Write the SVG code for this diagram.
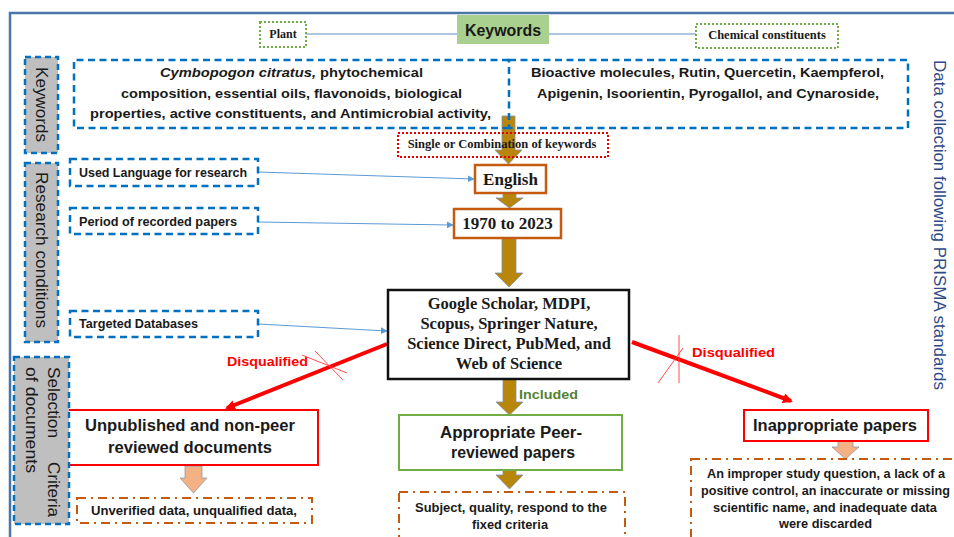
<svg xmlns="http://www.w3.org/2000/svg" width="954" height="537" viewBox="0 0 954 537">
<defs>
<style>
.bd{fill:none;stroke:#0070c0;stroke-width:2.5;stroke-dasharray:7 4.5}
.side{fill:#bfbfbf;stroke:#0070c0;stroke-width:2.5;stroke-dasharray:6 4}
.gd{fill:#fff;stroke:#70ad47;stroke-width:2;stroke-dasharray:2 2}
.rd{fill:none;stroke:#e00000;stroke-width:2;stroke-dasharray:2 2}
.od{fill:#fff;stroke:#c55a11;stroke-width:2;stroke-dasharray:9 5 2 5}
.ob{fill:#fff;stroke:#c55a11;stroke-width:2.5}
.sans{font-family:"Liberation Sans",Arial,sans-serif;font-weight:bold;fill:#1a1a1a}
.ser{font-family:"Liberation Serif","Times New Roman",serif;font-weight:bold;fill:#1a1a1a}
.side-t{font-family:"Liberation Sans",Arial,sans-serif;font-size:16px;fill:#1a1a1a}
.brown{fill:#b8860b;stroke:#7f93ad;stroke-width:0.8}
.peach{fill:#f4b183;stroke:#8c99a8;stroke-width:0.8}
.thin{fill:none;stroke:#5b9bd5;stroke-width:1.2}
.red{fill:none;stroke:#ff0000;stroke-width:4}
.cross{fill:none;stroke:#ff3b3b;stroke-width:0.9}
.lbl-red{font-family:"Liberation Sans",Arial,sans-serif;font-weight:bold;font-size:13px;fill:#ff0000}
</style>
<marker id="ab" viewBox="0 0 10 10" refX="9" refY="5" markerWidth="7" markerHeight="7" markerUnits="userSpaceOnUse" orient="auto"><path d="M0,0 L10,5 L0,10 z" fill="#5b9bd5"/></marker>
<marker id="ar" viewBox="0 0 10 10" refX="8" refY="5" markerWidth="10" markerHeight="10" markerUnits="userSpaceOnUse" orient="auto"><path d="M0,0 L10,5 L0,10 z" fill="#ff0000"/></marker>
</defs>
<rect width="954" height="537" fill="#fff"/>
<!-- frame -->
<path d="M10,537 L10,13 L954,13" fill="none" stroke="#4a76a8" stroke-width="2.5"/>

<g id="connectors">
<line x1="306" y1="34" x2="457" y2="34" stroke="#8fb4d9" stroke-width="1.5"/>
<line x1="549" y1="34" x2="696" y2="34" stroke="#8fb4d9" stroke-width="1.5"/>
<line class="thin" x1="258" y1="172" x2="474" y2="179" marker-end="url(#ab)"/>
<line class="thin" x1="258" y1="222" x2="453" y2="225" marker-end="url(#ab)"/>
<line class="thin" x1="258" y1="324" x2="387" y2="331" marker-end="url(#ab)"/>
<path class="brown" d="M502,116 H515 V150 H522 L508.5,164 L495,150 H502 Z"/>
<path class="brown" d="M503,193 H516 V198 H523 L509.5,208 L496,198 H503 Z"/>
<path class="brown" d="M502,238 H516 V273 H523 L509,287 L495,273 H502 Z"/>
<path class="brown" d="M503,379 H516 V402 H523 L509.5,415 L496,402 H503 Z"/>
<path class="brown" d="M503,470 H516 V475 H523 L509.5,489 L496,475 H503 Z"/>
<path class="peach" d="M185,466 H202 V478 H207 L193.5,493 L180,478 H185 Z"/>
<path class="peach" d="M838,441 H853 V447 H859 L845.5,459 L832,447 H838 Z"/>
<line class="red" x1="387" y1="344" x2="227" y2="408" marker-end="url(#ar)"/>
<line class="red" x1="632" y1="342" x2="791" y2="401" marker-end="url(#ar)"/>
<line class="cross" x1="302" y1="355" x2="347" y2="373"/>
<line class="cross" x1="315" y1="351" x2="343" y2="380"/>
<line class="cross" x1="679" y1="335" x2="679" y2="383"/>
<line class="cross" x1="658" y1="383" x2="683" y2="348"/>
<text class="lbl-red" x="227" y="366" textLength="81" lengthAdjust="spacingAndGlyphs">Disqualified</text>
<text class="lbl-red" x="692" y="357" textLength="83" lengthAdjust="spacingAndGlyphs">Disqualified</text>
<text class="sans" x="519" y="399" font-size="13" style="fill:#548235" textLength="59" lengthAdjust="spacingAndGlyphs">Included</text>
</g>

<g id="keywords-title">
<rect x="457" y="15" width="92" height="29" fill="#a9d08e"/>
<text class="sans" x="503" y="36" font-size="16" text-anchor="middle" textLength="76" lengthAdjust="spacingAndGlyphs">Keywords</text>
</g>
<g id="plant">
<rect class="gd" x="260" y="22" width="46" height="25"/>
<text class="ser" x="283" y="38" font-size="12" text-anchor="middle">Plant</text>
</g>
<g id="chemical">
<rect class="gd" x="696" y="24" width="142" height="24"/>
<text class="ser" x="767" y="39" font-size="12.5" text-anchor="middle">Chemical constituents</text>
</g>

<g id="side-keywords">
<rect class="side" x="25" y="57" width="33" height="96"/>
<text class="side-t" transform="translate(35.5,67) rotate(90)" textLength="75" lengthAdjust="spacingAndGlyphs">Keywords</text>
</g>
<g id="side-research">
<rect class="side" x="25" y="163" width="33" height="179"/>
<text class="side-t" transform="translate(35.5,172) rotate(90)" textLength="156" lengthAdjust="spacingAndGlyphs">Research conditions</text>
</g>

<g id="plant-keywords">
<path class="bd" d="M509,60 H74 V128 H509"/>
<text class="sans" x="291.5" y="77" font-size="13.5" text-anchor="middle" textLength="263" lengthAdjust="spacingAndGlyphs"><tspan font-style="italic">Cymbopogon citratus,</tspan>  phytochemical</text>
<text class="sans" x="291.5" y="98" font-size="13.5" text-anchor="middle" textLength="341" lengthAdjust="spacingAndGlyphs">composition, essential oils, flavonoids, biological</text>
<text class="sans" x="290.5" y="118" font-size="13.5" text-anchor="middle" textLength="401" lengthAdjust="spacingAndGlyphs">properties, active constituents, and Antimicrobial activity,</text>
</g>
<g id="chemical-keywords">
<rect class="bd" x="509" y="60" width="399" height="68"/>
<text class="sans" x="707.5" y="77" font-size="13.5" text-anchor="middle" textLength="353" lengthAdjust="spacingAndGlyphs">Bioactive molecules, Rutin, Quercetin, Kaempferol,</text>
<text class="sans" x="708" y="98" font-size="13.5" text-anchor="middle" textLength="342" lengthAdjust="spacingAndGlyphs">Apigenin, Isoorientin, Pyrogallol, and Cynaroside,</text>
</g>

<g id="single-combination">
<rect class="rd" x="398" y="133" width="210" height="24"/>
<text class="ser" x="502" y="148" font-size="12.5" text-anchor="middle">Single or Combination of keywords</text>
</g>

<g id="used-language">
<rect class="bd" x="70" y="159" width="188" height="27"/>
<text class="sans" x="79" y="177" font-size="12" textLength="168" lengthAdjust="spacingAndGlyphs">Used Language for research</text>
</g>
<g id="period">
<rect class="bd" x="70" y="208" width="188" height="26"/>
<text class="sans" x="79" y="226" font-size="12" textLength="158" lengthAdjust="spacingAndGlyphs">Period of recorded papers</text>
</g>
<g id="targeted-databases">
<rect class="bd" x="70" y="311" width="188" height="26"/>
<text class="sans" x="79" y="328" font-size="12" textLength="119" lengthAdjust="spacingAndGlyphs">Targeted Databases</text>
</g>

<g id="english">
<rect class="ob" x="475" y="165" width="71" height="28"/>
<text class="ser" x="510.5" y="185" font-size="17" text-anchor="middle">English</text>
</g>
<g id="years">
<rect class="ob" x="454" y="209" width="107" height="29"/>
<text class="ser" x="507.5" y="229" font-size="17" text-anchor="middle">1970 to 2023</text>
</g>

<g id="databases">
<rect x="388" y="290" width="241" height="89" fill="#fff" stroke="#111" stroke-width="2.5"/>
<text class="ser" x="509" y="309" font-size="16.5" text-anchor="middle">Google Scholar, MDPI,</text>
<text class="ser" x="509" y="329" font-size="16.5" text-anchor="middle">Scopus, Springer Nature,</text>
<text class="ser" x="509" y="349" font-size="16.5" text-anchor="middle">Science Direct, PubMed, and</text>
<text class="ser" x="509" y="369" font-size="16.5" text-anchor="middle">Web of Science</text>
</g>

<g id="appropriate">
<rect x="399" y="415" width="223" height="55" fill="#fff" stroke="#70ad47" stroke-width="2"/>
<text class="sans" x="511" y="438" font-size="16" text-anchor="middle" textLength="142" lengthAdjust="spacingAndGlyphs">Appropriate Peer-</text>
<text class="sans" x="513" y="458" font-size="16" text-anchor="middle" textLength="124" lengthAdjust="spacingAndGlyphs">reviewed papers</text>
</g>
<g id="subject">
<rect class="od" x="399" y="492" width="226" height="52"/>
<text class="sans" x="511" y="512" font-size="12" text-anchor="middle" textLength="192" lengthAdjust="spacingAndGlyphs">Subject, quality, respond to the</text>
<text class="sans" x="510" y="529" font-size="12" text-anchor="middle" textLength="76" lengthAdjust="spacingAndGlyphs">fixed criteria</text>
</g>

<g id="unpublished">
<rect x="60" y="410" width="258" height="55" fill="#fff" stroke="#ff0000" stroke-width="2"/>
<text class="sans" x="190" y="431" font-size="16" text-anchor="middle" textLength="210" lengthAdjust="spacingAndGlyphs">Unpublished and non-peer</text>
<text class="sans" x="190" y="453" font-size="16" text-anchor="middle" textLength="164" lengthAdjust="spacingAndGlyphs">reviewed documents</text>
</g>
<g id="unverified">
<rect class="od" x="77" y="498" width="235" height="25"/>
<text class="sans" x="194" y="515" font-size="12" text-anchor="middle" textLength="206" lengthAdjust="spacingAndGlyphs">Unverified data, unqualified data,</text>
</g>

<g id="side-selection">
<rect class="side" x="14" y="357" width="55" height="167"/>
<text class="side-t" transform="translate(48,367) rotate(90)" textLength="71" lengthAdjust="spacingAndGlyphs">Selection</text>
<text class="side-t" transform="translate(48,462) rotate(90)" textLength="55" lengthAdjust="spacingAndGlyphs">Criteria</text>
<text class="side-t" transform="translate(26,367) rotate(90)" textLength="106" lengthAdjust="spacingAndGlyphs">of documents</text>
</g>

<g id="inappropriate">
<rect x="744" y="410" width="184" height="31" fill="#fff" stroke="#ff0000" stroke-width="2"/>
<text class="sans" x="835" y="431" font-size="16" text-anchor="middle" textLength="164" lengthAdjust="spacingAndGlyphs">Inappropriate papers</text>
</g>
<g id="discarded">
<rect class="od" x="691" y="459" width="275" height="90" style="fill:none"/>
<text class="sans" x="826" y="478" font-size="12.5" text-anchor="middle" textLength="238" lengthAdjust="spacingAndGlyphs">An improper study question, a lack of a</text>
<text class="sans" x="825.5" y="495" font-size="12.5" text-anchor="middle" textLength="249" lengthAdjust="spacingAndGlyphs">positive control, an inaccurate or missing</text>
<text class="sans" x="825" y="512" font-size="12.5" text-anchor="middle" textLength="224" lengthAdjust="spacingAndGlyphs">scientific name, and inadequate data</text>
<text class="sans" x="825.5" y="528" font-size="12.5" text-anchor="middle" textLength="93" lengthAdjust="spacingAndGlyphs">were discarded</text>
</g>

<g id="prisma-label">
<text transform="translate(934,60) rotate(90)" font-family="'Liberation Sans',Arial,sans-serif" font-size="16" fill="#2e4a86" textLength="330" lengthAdjust="spacingAndGlyphs">Data collection following PRISMA standards</text>
</g>
</svg>
